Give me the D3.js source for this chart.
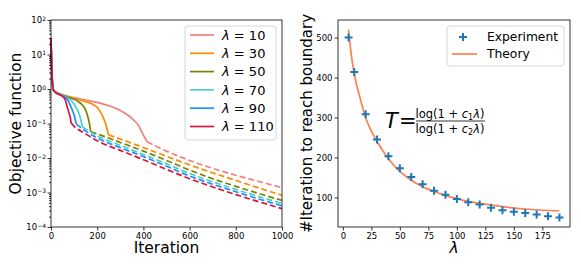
<!DOCTYPE html>
<html>
<head>
<meta charset="utf-8">
<script src="https://cdn.jsdelivr.net/npm/d3@7"></script>
<style>
  html, body { margin: 0; padding: 0; background: #fff; }
  svg { display: block; font-family: "DejaVu Sans", sans-serif; }
</style>
</head>
<body>
<svg id="chart" width="581" height="265"></svg>
<script>
// ---- left panel: objective vs iteration (solid until boundary, dashed after)
const lambdas = [10, 30, 50, 70, 90, 110];
const lamColors = ['#f08080', '#ff8c00', '#808000', '#48d1cc', '#1e90ff', '#dc143c'];

const solid10 = [[0, 20], [2, 8], [4, 3], [7, 1.3], [10, 0.97], [20, 0.83], [40, 0.72], [70, 0.62], [100, 0.56], [150, 0.48], [213, 0.39], [260, 0.31], [300, 0.24], [335, 0.17], [358, 0.126], [380, 0.085], [394, 0.055], [405, 0.04], [416, 0.0295]];
const dash10 = [[416, 0.0295], [500, 0.0158], [600, 0.0085], [700, 0.005], [800, 0.00316], [900, 0.00209], [1000, 0.00138]];

const solid30 = [[0, 22], [2, 8], [4, 3], [7, 1.3], [10, 0.96], [20, 0.82], [40, 0.71], [70, 0.6], [100, 0.53], [150, 0.43], [180, 0.36], [200, 0.29], [215, 0.21], [230, 0.13], [240, 0.08], [249, 0.0468]];
const dash30 = [[249, 0.0468], [300, 0.0355], [400, 0.02], [500, 0.0112], [600, 0.0063], [700, 0.0037], [800, 0.00224], [900, 0.00135], [1000, 0.00083]];

const solid50 = [[0, 24], [2, 8], [4, 3], [7, 1.3], [10, 0.95], [20, 0.81], [40, 0.7], [80, 0.56], [112, 0.46], [135, 0.35], [148, 0.26], [158, 0.17], [165, 0.11], [172, 0.0575]];
const dash50 = [[172, 0.0575], [200, 0.05], [300, 0.0282], [400, 0.0158], [500, 0.0085], [600, 0.00447], [700, 0.00251], [800, 0.00151], [900, 0.00093], [1000, 0.00059]];

const solid70 = [[0, 26], [2, 8], [4, 3], [7, 1.3], [10, 0.95], [20, 0.8], [40, 0.69], [70, 0.56], [90, 0.45], [104, 0.33], [115, 0.24], [123, 0.18], [130, 0.12], [136, 0.079]];
const dash70 = [[136, 0.079], [200, 0.0437], [300, 0.0234], [400, 0.0126], [500, 0.0068], [600, 0.00355], [700, 0.00204], [800, 0.00123], [900, 0.00076], [1000, 0.00048]];

const solid90 = [[0, 28], [2, 8], [4, 3], [7, 1.3], [10, 0.94], [20, 0.8], [40, 0.68], [60, 0.57], [75, 0.45], [85, 0.32], [95, 0.22], [102, 0.16], [106, 0.12], [109, 0.098]];
const dash90 = [[109, 0.098], [150, 0.06], [200, 0.038], [300, 0.02], [400, 0.011], [500, 0.0058], [600, 0.003], [700, 0.00174], [800, 0.00105], [900, 0.00065], [1000, 0.00041]];

const solid110 = [[0, 30], [2, 8], [4, 3], [7, 1.3], [10, 0.94], [20, 0.79], [40, 0.67], [52, 0.6], [62, 0.48], [68, 0.34], [75, 0.24], [80, 0.18], [85, 0.13], [87, 0.102]];
const dash110 = [[87, 0.102], [100, 0.083], [150, 0.05], [200, 0.0316], [300, 0.0166], [400, 0.0089], [500, 0.0047], [600, 0.0025], [700, 0.00145], [800, 0.00087], [900, 0.00054], [1000, 0.00034]];

const solidSeries = [solid10, solid30, solid50, solid70, solid90, solid110];
const dashSeries = [dash10, dash30, dash50, dash70, dash90, dash110];

const iterTicks = [0, 200, 400, 600, 800, 1000];
const objExps = [-4, -3, -2, -1, 0, 1, 2];

// ---- right panel: iterations to reach boundary vs lambda
const expLambda = [5, 10, 20, 30, 40, 50, 60, 70, 80, 90, 100, 110, 120, 130, 140, 150, 160, 170, 180, 190];
const expIters = [500, 414, 308, 245, 203, 173, 151, 133, 117, 107, 96, 88, 82, 74, 68, 64, 61, 57, 53, 50];
const theoryLambda = [5, 7.5, 10, 15, 20, 30, 40, 50, 60, 70, 80, 90, 100, 110, 120, 140, 160, 190];
const theoryIters = [520, 455, 410, 350, 300, 240, 197, 165, 143, 127, 115, 105, 97, 90, 85, 77, 71, 66];
const lamTicks = [0, 25, 50, 75, 100, 125, 150, 175];
const iterAxisTicks = [100, 200, 300, 400, 500];

const svg = d3.select('#chart');
const FONT = '"DejaVu Sans", sans-serif';
const TICK_FS = 8.5;

function frame(g, x0, y0, x1, y1) {
  g.append('rect').attr('x', x0).attr('y', y0).attr('width', x1 - x0).attr('height', y1 - y0)
    .attr('fill', 'none').attr('stroke', '#000').attr('stroke-width', 0.8);
}

// ================= LEFT =================
const L = { x0: 51, x1: 282, y0: 20, y1: 227 };
const xL = d3.scaleLinear().domain([0, 1000]).range([L.x0, L.x1]);
const yL = d3.scaleLog().domain([1e-4, 1e2]).range([L.y1, L.y0]);
const left = svg.append('g');

const lineL = d3.line().x(d => xL(d[0])).y(d => yL(d[1])).curve(d3.curveMonotoneX);
solidSeries.forEach((s, i) => {
  left.append('path').attr('d', lineL(s)).attr('fill', 'none')
    .attr('stroke', lamColors[i]).attr('stroke-width', 1.7);
});
dashSeries.forEach((s, i) => {
  left.append('path').attr('d', lineL(s)).attr('fill', 'none')
    .attr('stroke', lamColors[i]).attr('stroke-width', 1.7).attr('stroke-dasharray', '6,3');
});

frame(left, L.x0, L.y0, L.x1, L.y1);

// x axis
const axL = left.append('g').attr('transform', `translate(0,${L.y1})`)
  .call(d3.axisBottom(xL).tickValues(iterTicks).tickSize(3.5).tickPadding(2).tickFormat(d3.format('d')));
// y axis (log): major decades + minors
const minors = [];
objExps.slice(0, -1).forEach(e => { for (let k = 2; k <= 9; k++) minors.push(k * Math.pow(10, e)); });
left.append('g').attr('transform', `translate(${L.x0},0)`)
  .call(d3.axisLeft(yL).tickValues(minors).tickSize(2).tickFormat(''));
const ayL = left.append('g').attr('transform', `translate(${L.x0},0)`)
  .call(d3.axisLeft(yL).tickValues(objExps.map(e => Math.pow(10, e))).tickSize(3.5).tickPadding(2).tickFormat(''));
ayL.selectAll('.tick').append('text')
  .attr('x', -5).attr('dy', '0.32em').attr('text-anchor', 'end').attr('fill', '#000')
  .each(function (d) {
    const t = d3.select(this);
    const e = Math.round(Math.log10(d));
    t.append('tspan').text('10');
    t.append('tspan').attr('dy', '-0.45em').attr('font-size', 6).text(e < 0 ? '\u2212' + (-e) : e);
  });

// ================= RIGHT =================
const R = { x0: 338, x1: 570, y0: 20, y1: 227 };
const xR = d3.scaleLinear().domain([-4.25, 199.25]).range([R.x0, R.x1]);
const yR = d3.scaleLinear().domain([26, 544]).range([R.y1, R.y0]);
const right = svg.append('g');

const lineR = d3.line().x(d => xR(d[0])).y(d => yR(d[1])).curve(d3.curveMonotoneX);
right.append('path').attr('d', lineR(theoryLambda.map((l, i) => [l, theoryIters[i]])))
  .attr('fill', 'none').attr('stroke', '#ff7f50').attr('stroke-width', 1.7);

const plus = (g, cx, cy, s) => {
  g.append('path').attr('d', `M${cx - s},${cy}H${cx + s}M${cx},${cy - s}V${cy + s}`)
    .attr('stroke', '#1f77b4').attr('stroke-width', 2).attr('fill', 'none');
};
expLambda.forEach((l, i) => plus(right, xR(l), yR(expIters[i]), 4));

frame(right, R.x0, R.y0, R.x1, R.y1);
right.append('g').attr('transform', `translate(0,${R.y1})`)
  .call(d3.axisBottom(xR).tickValues(lamTicks).tickSize(3.5).tickPadding(2));
right.append('g').attr('transform', `translate(${R.x0},0)`)
  .call(d3.axisLeft(yR).tickValues(iterAxisTicks).tickSize(3.5).tickPadding(2));

// common axis styling
svg.selectAll('.domain').remove();
svg.selectAll('.tick line').attr('stroke', '#000').attr('stroke-width', 0.8);
svg.selectAll('.tick text').attr('font-size', TICK_FS).attr('font-family', FONT).attr('fill', '#000');

// axis labels
svg.append('text').attr('x', (L.x0 + L.x1) / 2).attr('y', 253).attr('text-anchor', 'middle')
  .attr('font-size', 15.5).text('Iteration');
svg.append('text').attr('transform', `translate(21,${(L.y0 + L.y1) / 2}) rotate(-90)`)
  .attr('text-anchor', 'middle').attr('font-size', 15.5).text('Objective function');
svg.append('text').attr('x', (R.x0 + R.x1) / 2).attr('y', 253).attr('text-anchor', 'middle')
  .attr('font-size', 15.5).attr('font-style', 'italic').text('\u03bb');
svg.append('text').attr('transform', `translate(312,${(R.y0 + R.y1) / 2}) rotate(-90)`)
  .attr('text-anchor', 'middle').attr('font-size', 15).text('#Iteration to reach boundary');

// left legend
const legL = left.append('g');
legL.append('rect').attr('x', 185).attr('y', 26).attr('width', 91).attr('height', 114).attr('rx', 3)
  .attr('fill', '#fff').attr('fill-opacity', 0.8).attr('stroke', '#ccc').attr('stroke-width', 0.8);
lambdas.forEach((lam, i) => {
  const y = 35 + i * 18.3;
  legL.append('line').attr('x1', 190).attr('x2', 214).attr('y1', y).attr('y2', y)
    .attr('stroke', lamColors[i]).attr('stroke-width', 1.7);
  const t = legL.append('text').attr('x', 222).attr('y', y).attr('dy', '0.36em').attr('font-size', 13);
  t.append('tspan').attr('font-style', 'italic').text('\u03bb');
  t.append('tspan').text(` = ${lam}`);
});

// right legend
const legR = right.append('g');
legR.append('rect').attr('x', 447).attr('y', 26).attr('width', 117).attr('height', 40).attr('rx', 3)
  .attr('fill', '#fff').attr('fill-opacity', 0.8).attr('stroke', '#ccc').attr('stroke-width', 0.8);
plus(legR, 463, 37, 4);
legR.append('text').attr('x', 487).attr('y', 37).attr('dy', '0.36em').attr('font-size', 12.3).text('Experiment');
legR.append('line').attr('x1', 452).attr('x2', 477).attr('y1', 54).attr('y2', 54)
  .attr('stroke', '#ff7f50').attr('stroke-width', 1.7);
legR.append('text').attr('x', 487).attr('y', 54).attr('dy', '0.36em').attr('font-size', 12.3).text('Theory');

// formula annotation
const ann = right.append('g');
ann.append('text').attr('x', 385).attr('y', 128).attr('font-size', 21).attr('font-style', 'italic').text('T');
ann.append('text').attr('x', 399).attr('y', 128).attr('font-size', 21).text('=');
const num = ann.append('text').attr('x', 450).attr('y', 118).attr('text-anchor', 'middle').attr('font-size', 11.5);
num.append('tspan').text('log(1 + ');
num.append('tspan').attr('font-style', 'italic').text('c');
num.append('tspan').attr('font-size', 8).attr('dy', 2).text('1');
num.append('tspan').attr('font-style', 'italic').attr('dy', -2).text('\u03bb');
num.append('tspan').text(')');
ann.append('line').attr('x1', 416).attr('x2', 485).attr('y1', 121).attr('y2', 121)
  .attr('stroke', '#000').attr('stroke-width', 0.8);
const den = ann.append('text').attr('x', 450).attr('y', 133).attr('text-anchor', 'middle').attr('font-size', 11.5);
den.append('tspan').text('log(1 + ');
den.append('tspan').attr('font-style', 'italic').text('c');
den.append('tspan').attr('font-size', 8).attr('dy', 2).text('2');
den.append('tspan').attr('font-style', 'italic').attr('dy', -2).text('\u03bb');
den.append('tspan').text(')');
</script>
</body>
</html>
